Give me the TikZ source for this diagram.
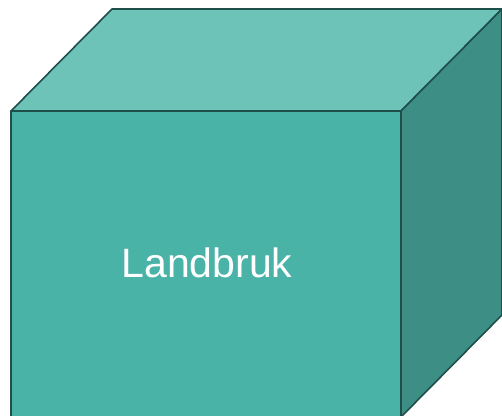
\documentclass[tikz,border=0pt]{standalone}
\usepackage{fontspec}
\setmainfont{Liberation Sans}
\usetikzlibrary{calc}
\definecolor{frontcol}{HTML}{4AB3A8}
\definecolor{topcol}{HTML}{6EC3B9}
\definecolor{sidecol}{HTML}{3D8E85}
\definecolor{edgecol}{HTML}{1F4F4B}
\begin{document}
\begin{tikzpicture}[x=1pt,y=-1pt,line join=round,line width=1.6pt,draw=edgecol]
	\def\w{390}
	\def\h{306}
	\def\d{101}
	\useasboundingbox (0,0) rectangle (502,415);
	\begin{scope}
	\clip (0,0) rectangle (502,415);
	\coordinate (fa) at (11,111); % front top left
	\coordinate (fb) at ($(fa)+(\w,0)$);
	\coordinate (fc) at ($(fb)+(0,\h)$);
	\coordinate (fd) at ($(fa)+(0,\h)$);
	\coordinate (ba) at ($(fa)+(\d,-102)$); % back corners
	\coordinate (bb) at ($(fb)+(\d,-102)$);
	\coordinate (bc) at ($(fc)+(\d,-102)$);
	\filldraw[fill=topcol] (fa)--(ba)--(bb)--(fb)--cycle; % top face
	\filldraw[fill=sidecol] (fb)--(bb)--(bc)--(fc)--cycle; % right face
	\filldraw[fill=frontcol] (fa)--(fb)--(fc)--(fd)--cycle; % front face
	\end{scope}
	\node[text=white,font=\fontsize{41}{49}\selectfont] (label) at (207,263) {Landbruk};
\end{tikzpicture}
\end{document}
